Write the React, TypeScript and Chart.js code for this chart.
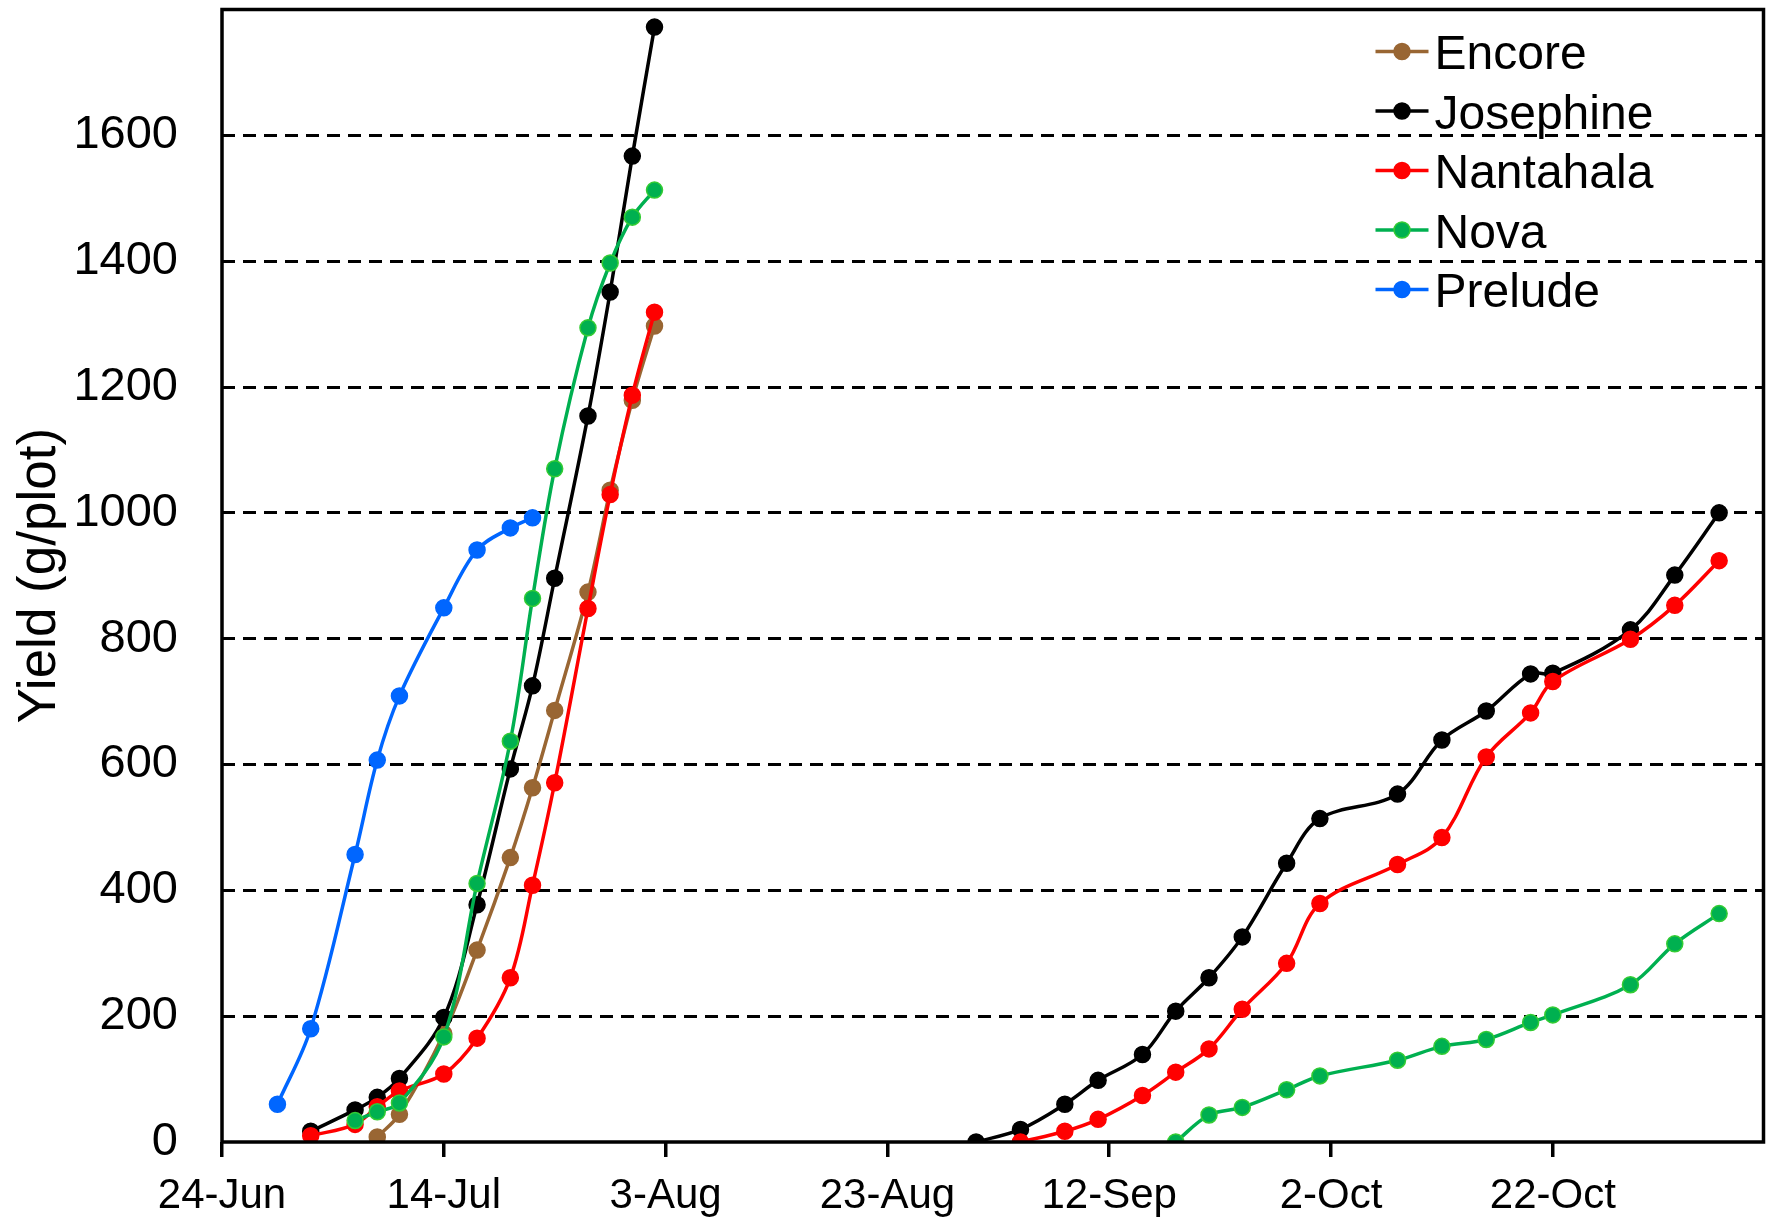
import React, { useEffect, useRef } from 'react';
import { Chart, registerables } from 'chart.js';

Chart.register(...registerables);

// ---- Data -------------------------------------------------------------
const MONTHS = ['Jan', 'Feb', 'Mar', 'Apr', 'May', 'Jun', 'Jul', 'Aug', 'Sep', 'Oct', 'Nov', 'Dec'];

const axisStart = '24-Jun';
const axisEnd = '10-Nov';
const xTickLabels = ['24-Jun', '14-Jul', '3-Aug', '23-Aug', '12-Sep', '2-Oct', '22-Oct'];
const yTickValues = [0, 200, 400, 600, 800, 1000, 1200, 1400, 1600];
const yAxisMax = 1800;

// Harvest dates, summer (early) and autumn (late) seasons
const earlyDates = ['29-Jun', '2-Jul', '6-Jul', '8-Jul', '10-Jul', '14-Jul', '17-Jul', '20-Jul', '22-Jul', '24-Jul', '27-Jul', '29-Jul', '31-Jul', '2-Aug'];
const lateDates = ['31-Aug', '4-Sep', '8-Sep', '11-Sep', '15-Sep', '18-Sep', '21-Sep', '24-Sep', '28-Sep', '1-Oct', '8-Oct', '12-Oct', '16-Oct', '20-Oct', '22-Oct', '29-Oct', '2-Nov', '6-Nov'];

// Cumulative yield (g/plot)
const encoreEarly = [null, null, null, 8, 44, 172, 305, 452, 563, 686, 874, 1036, 1179, 1297];
const josephineEarly = [null, 17, 51, 71, 101, 198, 377, 593, 725, 896, 1154, 1351, 1567, 1772];
const josephineLate = [0, 20, 60, 98, 139, 208, 261, 326, 443, 514, 553, 639, 685, 744, 745, 814, 901, 1000];
const nantahalaEarly = [null, 10, 28, 56, 81, 108, 165, 261, 408, 571, 848, 1029, 1187, 1319];
const nantahalaLate = [null, 0, 17, 36, 74, 111, 148, 211, 284, 379, 441, 484, 612, 682, 732, 799, 853, 924];
const novaEarly = [null, null, 34, 48, 62, 167, 411, 637, 864, 1070, 1294, 1397, 1470, 1513];
const novaLate = [null, null, null, null, null, 0, 43, 55, 83, 105, 130, 152, 163, 190, 202, 250, 315, 363];
const preludeEarly = [60, 180, 457, 607, 709, 849, 941, 976, 992, null, null, null, null, null];

const seriesNames = ['Encore', 'Josephine', 'Nantahala', 'Nova', 'Prelude'];
const seriesEarly = [encoreEarly, josephineEarly, nantahalaEarly, novaEarly, preludeEarly];
const seriesLate = [null, josephineLate, nantahalaLate, novaLate, null];

// ---- Styles -----------------------------------------------------------
const lineColors = ['#996633', '#000000', '#FF0000', '#00B050', '#0066FF'];
const pointFills = ['#996633', '#000000', '#FF0000', '#00B050', '#0066FF'];
const pointBorders = ['#996633', '#000000', '#FF0000', '#33CC33', '#0066FF'];
const FONT = '"Liberation Sans", Arial, Helvetica, sans-serif';

const dayIndex = (label: string) => {
  const [d, m] = label.split('-');
  return Date.UTC(2001, MONTHS.indexOf(m), Number(d)) / 86400000;
};
const toDay = (label: string) => Math.round(dayIndex(label) - dayIndex(axisStart));

const buildPoints = (dates: string[], values: (number | null)[]) =>
  dates
    .map((d, i) => ({ x: toDay(d), y: values[i] }))
    .filter((p) => p.y !== null && p.y !== undefined);

const framePlugin = {
  id: 'frame',
  afterDatasetsDraw(chart: any) {
    const { ctx, chartArea } = chart;
    ctx.save();
    ctx.strokeStyle = '#000';
    ctx.lineWidth = 3.5;
    ctx.strokeRect(chartArea.left, chartArea.top, chartArea.right - chartArea.left, chartArea.bottom - chartArea.top);
    ctx.restore();
  },
};

const legendPlugin = {
  id: 'seriesLegend',
  afterDraw(chart: any) {
    const { ctx, chartArea } = chart;
    const lineStart = chartArea.right - 388;
    const lineEnd = lineStart + 53;
    const textX = lineEnd + 6;
    const top = chartArea.top + 42;
    const step = 59.5;
    ctx.save();
    ctx.font = `48px ${FONT}`;
    ctx.textAlign = 'left';
    ctx.textBaseline = 'alphabetic';
    seriesNames.forEach((name, i) => {
      const y = top + i * step;
      ctx.strokeStyle = lineColors[i];
      ctx.lineWidth = 3.5;
      ctx.beginPath();
      ctx.moveTo(lineStart, y);
      ctx.lineTo(lineEnd, y);
      ctx.stroke();
      ctx.beginPath();
      ctx.arc((lineStart + lineEnd) / 2, y, 8, 0, Math.PI * 2);
      ctx.fillStyle = pointFills[i];
      ctx.fill();
      ctx.lineWidth = 1.5;
      ctx.strokeStyle = pointBorders[i];
      ctx.stroke();
      ctx.fillStyle = '#000';
      ctx.fillText(name, textX, y + 17.5);
    });
    ctx.restore();
  },
};

export default function App() {
  const canvasRef = useRef<HTMLCanvasElement | null>(null);

  useEffect(() => {
    document.body.style.margin = '0';
    const canvas = canvasRef.current;
    if (!canvas) return;

    const datasets: any[] = [];
    seriesNames.forEach((name, i) => {
      const common = {
        label: name,
        borderColor: lineColors[i],
        backgroundColor: pointFills[i],
        pointBackgroundColor: pointFills[i],
        pointBorderColor: pointBorders[i],
        pointBorderWidth: 1.5,
        pointRadius: 8,
        pointHoverRadius: 8,
        borderWidth: 3.5,
        tension: 0.35,
        fill: false,
        order: seriesNames.length - i,
      };
      datasets.push({ ...common, data: buildPoints(earlyDates, seriesEarly[i]) });
      const late = seriesLate[i];
      if (late) datasets.push({ ...common, data: buildPoints(lateDates, late) });
    });

    const chart = new Chart(canvas, {
      type: 'line',
      data: { datasets },
      options: {
        responsive: false,
        animation: false,
        devicePixelRatio: 1,
        layout: { padding: { left: 0, top: 6, right: 8, bottom: 0 } },
        plugins: { legend: { display: false }, tooltip: { enabled: false } },
        scales: {
          x: {
            type: 'linear',
            min: 0,
            max: toDay(axisEnd),
            afterBuildTicks: (scale: any) => {
              scale.ticks = xTickLabels.map((l) => ({ value: toDay(l) }));
            },
            afterFit: (scale: any) => {
              scale.height = 76;
              scale.paddingLeft = 0;
              scale.paddingRight = 0;
            },
            ticks: {
              autoSkip: false,
              maxRotation: 0,
              padding: 14,
              color: '#000',
              font: { family: FONT, size: 42 },
              callback: (_v: any, index: number) => xTickLabels[index],
            },
            grid: { drawOnChartArea: false, drawTicks: true, tickLength: 15, lineWidth: 3.5, color: '#000' },
            border: { display: false },
          },
          y: {
            type: 'linear',
            min: 0,
            max: yAxisMax,
            afterBuildTicks: (scale: any) => {
              scale.ticks = [...yTickValues, yAxisMax].map((v) => ({ value: v }));
            },
            afterFit: (scale: any) => {
              scale.width = 222;
              scale.paddingTop = 0;
              scale.paddingBottom = 0;
            },
            ticks: {
              padding: 44,
              color: '#000',
              font: { family: FONT, size: 47 },
              callback: (v: any) => (yTickValues.includes(v) ? String(v) : ''),
            },
            grid: {
              drawTicks: false,
              lineWidth: 3,
              color: (ctx: any) =>
                ctx.tick && (ctx.tick.value === 0 || ctx.tick.value === yAxisMax) ? 'rgba(0,0,0,0)' : '#000',
            },
            border: { display: false, dash: [13, 8] },
            title: {
              display: true,
              text: 'Yield (g/plot)',
              color: '#000',
              font: { family: FONT, size: 53 },
              padding: { top: 9, bottom: 0 },
            },
          },
        },
      },
      plugins: [framePlugin, legendPlugin],
    });

    return () => chart.destroy();
  }, []);

  return (
    <div style={{ width: 1773, height: 1218, background: '#fff' }}>
      <canvas ref={canvasRef} width={1773} height={1218} style={{ display: 'block', width: 1773, height: 1218 }} />
    </div>
  );
}
